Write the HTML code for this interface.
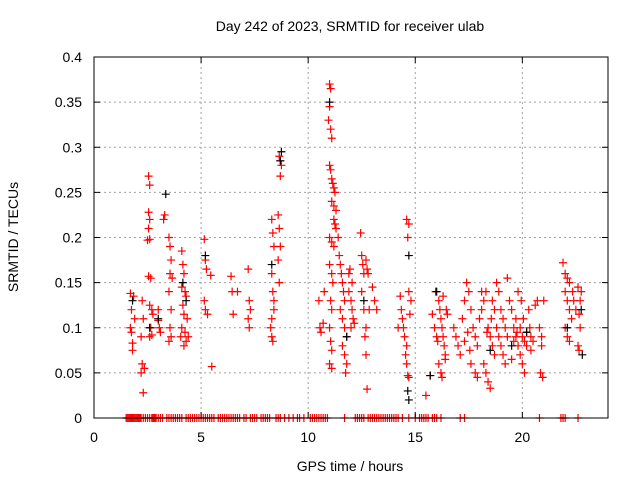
<!DOCTYPE html>
<html><head><meta charset="utf-8"><style>
body{margin:0;background:#fff;}
svg text{font-family:"Liberation Sans",sans-serif;font-size:14px;fill:#000;}
</style></head><body>
<svg id="chart" width="640" height="480">
<rect x="0" y="0" width="640" height="480" fill="#fff"/>
<g id="grid"></g>
<g id="marks"></g>
<rect x="94" y="57" width="514" height="361" fill="none" stroke="#000" stroke-width="1"/>
<g id="axes"></g>
<text x="350" y="31" text-anchor="middle">Day 242 of 2023, SRMTID for receiver ulab</text>
<text x="350" y="471" text-anchor="middle">GPS time / hours</text>
<text x="0" y="0" text-anchor="middle" transform="translate(18,237) rotate(-90)">SRMTID / TECUs</text>
</svg>
<script>
const xTicks=[0,5,10,15,20];
const yTicks=[0,0.05,0.1,0.15,0.2,0.25,0.3,0.35,0.4];
const yTickLabels=["0","0.05","0.1","0.15","0.2","0.25","0.3","0.35","0.4"];
const redT=[1.7,1.75,1.7,1.8,1.75,1.9,1.85,1.8,2.2,2.25,2.3,2.35,2.2,2.3,2.25,2.55,2.6,2.55,2.6,2.55,2.6,2.5,2.55,2.65,2.6,2.7,2.65,2.6,2.7,2.75,3.0,3.05,3.1,3.0,3.25,3.3,3.5,3.55,3.6,3.55,3.65,3.5,3.6,3.55,3.6,3.5,4.1,4.15,4.2,4.1,4.25,4.3,4.15,4.2,4.35,4.1,4.25,4.3,4.2,4.4,4.05,5.15,5.2,5.25,5.15,5.2,5.3,5.45,5.5,6.4,6.45,6.5,6.7,7.2,7.25,7.3,7.2,7.25,8.3,8.35,8.4,8.3,8.35,8.4,8.3,8.25,8.3,8.35,8.4,8.65,8.7,8.75,8.7,8.6,8.65,8.7,8.6,8.65,10.5,10.55,10.6,10.7,10.75,11.0,11.05,11.0,10.95,11.05,11.1,11.0,11.05,11.1,11.15,11.2,11.25,11.1,11.2,11.3,11.2,11.25,11.3,11.0,11.1,11.2,11.0,11.1,11.15,11.05,11.1,11.0,11.05,11.1,11.0,11.1,11.4,11.45,11.5,11.55,11.6,11.65,11.7,11.5,11.6,11.7,11.8,11.6,11.7,11.8,11.75,11.9,12.0,12.05,12.1,12.0,12.15,11.9,12.05,11.95,12.45,12.5,12.55,12.6,12.5,12.7,12.75,12.8,12.6,12.7,12.65,12.7,12.75,12.85,13.0,13.1,13.2,14.3,14.35,14.4,14.45,14.5,14.6,14.55,14.6,14.65,14.7,14.6,14.7,14.65,14.7,14.8,14.75,14.2,15.5,15.7,15.8,15.9,16.0,16.05,15.95,16.1,16.15,16.2,16.25,16.3,16.35,16.4,16.1,16.2,16.25,16.4,16.5,16.45,16.3,16.8,16.9,17.0,17.1,17.2,17.3,17.4,17.5,17.6,17.7,17.8,17.9,17.6,17.8,17.9,17.45,17.3,17.55,18.0,18.1,18.2,18.3,18.4,18.5,18.6,18.7,18.2,18.3,18.4,18.5,18.6,18.7,18.8,18.9,19.0,19.1,19.2,18.8,18.9,19.0,19.1,19.2,19.3,18.1,18.35,18.55,19.3,19.4,19.5,19.6,19.7,19.8,19.9,20.0,20.1,19.5,19.7,19.9,20.0,20.1,20.2,20.3,20.35,20.4,19.8,19.95,20.05,20.2,20.4,20.5,19.6,19.75,20.6,20.7,20.8,20.9,20.85,20.95,21.0,20.9,21.9,22.0,22.1,22.2,22.0,22.1,22.2,22.3,22.0,22.1,22.2,22.35,22.4,22.5,22.6,22.7,22.65,22.7,22.6,22.65,22.75];
const redV=[0.138,0.12,0.10,0.083,0.095,0.11,0.135,0.075,0.05,0.06,0.028,0.055,0.09,0.11,0.13,0.268,0.258,0.228,0.22,0.21,0.198,0.197,0.157,0.155,0.125,0.12,0.1,0.09,0.092,0.115,0.108,0.1,0.095,0.12,0.22,0.225,0.2,0.19,0.175,0.16,0.155,0.14,0.12,0.1,0.09,0.085,0.185,0.17,0.16,0.145,0.14,0.135,0.125,0.115,0.11,0.1,0.095,0.085,0.08,0.09,0.09,0.198,0.175,0.165,0.13,0.12,0.115,0.158,0.057,0.157,0.14,0.115,0.14,0.165,0.13,0.12,0.11,0.1,0.22,0.205,0.19,0.16,0.14,0.13,0.11,0.1,0.09,0.085,0.12,0.29,0.285,0.28,0.268,0.225,0.21,0.19,0.175,0.15,0.13,0.1,0.095,0.105,0.14,0.37,0.365,0.345,0.33,0.32,0.31,0.28,0.275,0.265,0.26,0.255,0.25,0.24,0.235,0.23,0.22,0.215,0.21,0.2,0.195,0.19,0.17,0.16,0.15,0.13,0.12,0.1,0.085,0.075,0.06,0.055,0.2,0.18,0.17,0.16,0.15,0.14,0.13,0.12,0.11,0.1,0.09,0.08,0.07,0.06,0.05,0.14,0.13,0.12,0.11,0.1,0.105,0.16,0.15,0.165,0.205,0.18,0.17,0.16,0.14,0.175,0.165,0.16,0.12,0.1,0.09,0.07,0.032,0.12,0.145,0.13,0.12,0.135,0.12,0.11,0.1,0.09,0.08,0.07,0.06,0.047,0.045,0.22,0.215,0.2,0.14,0.13,0.115,0.1,0.025,0.047,0.115,0.1,0.09,0.085,0.14,0.13,0.12,0.11,0.1,0.09,0.08,0.07,0.06,0.05,0.045,0.065,0.115,0.12,0.135,0.1,0.09,0.08,0.07,0.11,0.13,0.15,0.14,0.12,0.1,0.09,0.08,0.06,0.05,0.045,0.095,0.085,0.075,0.11,0.12,0.13,0.14,0.1,0.09,0.08,0.07,0.06,0.05,0.04,0.033,0.13,0.12,0.1,0.09,0.08,0.07,0.06,0.15,0.14,0.12,0.11,0.1,0.09,0.14,0.095,0.11,0.155,0.13,0.12,0.1,0.09,0.08,0.07,0.06,0.05,0.065,0.11,0.1,0.09,0.085,0.08,0.12,0.1,0.075,0.14,0.13,0.11,0.095,0.09,0.085,0.085,0.095,0.125,0.13,0.1,0.08,0.05,0.045,0.13,0.09,0.172,0.16,0.155,0.15,0.14,0.13,0.12,0.11,0.1,0.09,0.085,0.14,0.13,0.12,0.145,0.13,0.115,0.1,0.08,0.075,0.14];
const blackT=[2.6,3.35,4.15,5.2,8.75,8.3,11.0,14.7,14.7,14.65,15.7,16.0,22.8,22.75,18.5,19.5,12.6,11.8,20.2,22.1,3.0,4.3,1.8,8.7];
const blackV=[0.1,0.248,0.15,0.18,0.295,0.17,0.35,0.18,0.02,0.03,0.047,0.14,0.07,0.12,0.075,0.08,0.13,0.09,0.095,0.1,0.11,0.13,0.13,0.285];
const zeroT=[1.5,1.55,1.6,1.65,1.7,1.75,1.8,1.85,1.9,1.95,2.0,2.05,2.1,2.15,2.2,2.3,2.4,2.5,2.6,2.7,2.75,2.8,2.85,2.9,3.0,3.1,3.2,3.4,3.5,3.6,3.7,3.8,3.9,4.0,4.1,4.3,4.4,4.5,4.6,4.7,4.8,4.9,5.0,5.1,5.2,5.3,5.4,5.5,5.6,5.8,5.9,6.0,6.1,6.2,6.3,6.4,6.5,6.6,6.7,6.8,7.0,7.1,7.3,7.4,7.5,7.6,7.8,7.9,8.0,8.1,8.2,8.5,8.6,8.7,8.9,9.1,9.3,9.5,9.6,9.8,10.1,10.2,10.3,10.4,10.5,10.6,10.7,10.8,10.9,11.7,12.2,12.3,12.4,12.5,12.6,12.8,12.9,13.0,13.1,13.2,13.3,13.4,13.5,13.6,13.7,13.8,13.9,14.0,14.1,14.2,14.4,14.7,15.0,15.2,15.3,15.4,15.5,15.6,15.8,15.9,16.0,16.2,17.1,17.3,20.8,21.8,21.9,22.0,22.6];
const NS='http://www.w3.org/2000/svg';
const X0=94,X1=608,Y0=418,Y1=57,XMAX=24,YMAX=0.4;
function sx(t){return X0+(t/XMAX)*(X1-X0);}
function sy(v){return Y0-(v/YMAX)*(Y0-Y1);}
const grid=document.getElementById('grid'),axes=document.getElementById('axes'),marks=document.getElementById('marks');
function mk(tag,attrs,parent){const e=document.createElementNS(NS,tag);for(const k in attrs)e.setAttribute(k,attrs[k]);parent.appendChild(e);return e;}
xTicks.forEach(t=>{
  const x=sx(t);
  if(t>0){const g=mk('line',{x1:x,y1:Y1,x2:x,y2:Y0,stroke:'#a0a0a0','stroke-dasharray':'2,3'},grid);
  
  }
  mk('line',{x1:x,y1:Y0,x2:x,y2:Y0-6,stroke:'#000'},axes);
  mk('line',{x1:x,y1:Y1,x2:x,y2:Y1+6,stroke:'#000'},axes);
  const tx=mk('text',{x:x,y:Y0+24,'text-anchor':'middle'},axes);tx.textContent=t;
  
  
});
yTicks.forEach((v,i)=>{
  const y=sy(v);
  if(v>0&&v<YMAX){const g=mk('line',{x1:X0,y1:y,x2:X1,y2:y,stroke:'#a0a0a0','stroke-dasharray':'2,3'},grid);
  
  }
  mk('line',{x1:X0,y1:y,x2:X0+6,y2:y,stroke:'#000'},axes);
  mk('line',{x1:X1,y1:y,x2:X1-6,y2:y,stroke:'#000'},axes);
  const tx=mk('text',{x:X0-12,y:y+5,'text-anchor':'end'},axes);tx.textContent=yTickLabels[i];
  
  
});
function plus(t,v,color,name){
  const x=sx(t),y=sy(v);
  const p=mk('path',{d:`M${x-4},${y}H${x+4}M${x},${y-4}V${y+4}`,stroke:color,'stroke-width':1.2,fill:'none'},marks);
  
  
}
zeroT.forEach(t=>plus(t,0,'#ff0000','zero-point'));
redT.forEach((t,i)=>plus(t,redV[i],'#ff0000','srmtid-point'));
blackT.forEach((t,i)=>plus(t,blackV[i],'#000000','srmtid-point-black'));
</script>
</body></html>
